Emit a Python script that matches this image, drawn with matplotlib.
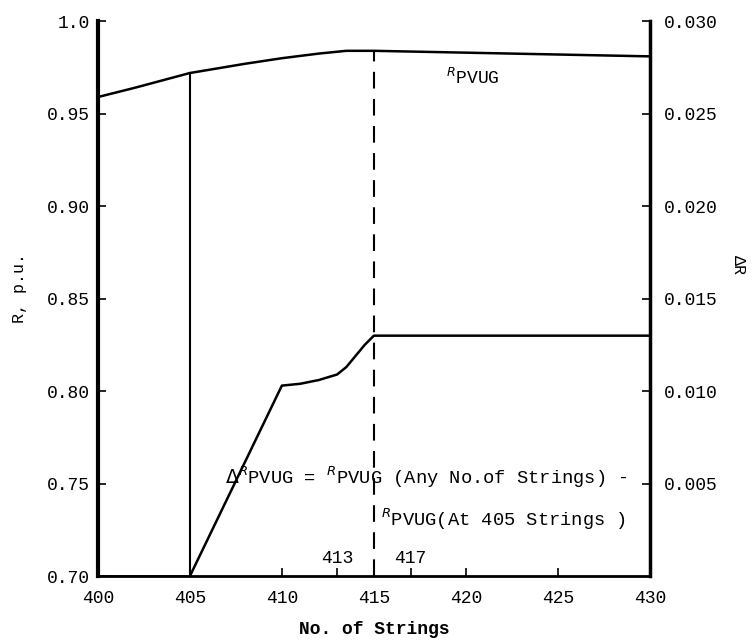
import numpy as np
import matplotlib.pyplot as plt

# --- data ---
x_top = [400, 402, 405, 408, 410, 412, 413.5, 415, 420, 425, 430]
r_pvug = [0.959, 0.964, 0.972, 0.977, 0.980, 0.9825, 0.984, 0.984, 0.983, 0.982, 0.981]

x_dr = [405, 410, 411, 412, 413, 413.5, 414, 414.5, 415, 420, 425, 430]
delta_r = [0.0, 0.0103, 0.0104, 0.0106, 0.0109, 0.0113, 0.0119, 0.0125, 0.0130, 0.0130, 0.0130, 0.0130]

x_ticks = [400, 405, 410, 415, 420, 425, 430]
left_ticks = [0.70, 0.75, 0.80, 0.85, 0.90, 0.95, 1.0]
left_labels = ["0.70", "0.75", "0.80", "0.85", "0.90", "0.95", "1.0"]
right_ticks = [0.005, 0.010, 0.015, 0.020, 0.025, 0.030]
right_labels = ["0.005", "0.010", "0.015", "0.020", "0.025", "0.030"]
mark_x = [413, 417]

# --- plot ---
font = "Liberation Mono"
plt.rcParams['font.family'] = [font, 'DejaVu Sans']

fig = plt.figure(figsize=(7.53, 6.43), dpi=100)
ax = fig.add_axes([0.130, 0.104, 0.733, 0.863])
ax2 = ax.twinx()

ax.set_xlim(400, 430)
ax.set_ylim(0.70, 1.0)
ax2.set_ylim(0.0, 0.030)

ax.plot(x_top, r_pvug, color="black", lw=1.8)
ax2.plot(x_dr, delta_r, color="black", lw=1.8)
ax2.plot([400, 405], [0, 0], color="black", lw=1.8)

# vertical solid line at 405 and dashed at 415
ax.plot([405, 405], [0.70, np.interp(405, x_top, r_pvug)], color="black", lw=1.5)
ax.plot([415, 415], [0.70, np.interp(415, x_top, r_pvug)], color="black", lw=1.5,
        dashes=(8, 5))

for a in (ax, ax2):
    a.spines['top'].set_visible(False)
ax.spines['left'].set_linewidth(3)
ax2.spines['right'].set_linewidth(2.5)
ax.spines['bottom'].set_linewidth(2)
ax2.spines['left'].set_visible(False)
ax2.spines['bottom'].set_visible(False)

ax.set_xticks(x_ticks)
ax.set_xticks(mark_x, minor=True)
ax.set_xticklabels([str(t) for t in x_ticks], fontsize=13)
ax.set_yticks(left_ticks)
ax.set_yticklabels(left_labels, fontsize=13)
ax2.set_yticks(right_ticks)
ax2.set_yticklabels(right_labels, fontsize=13)
ax.tick_params(axis='y', direction='in', length=6, width=1.2, pad=6)
ax.tick_params(axis='x', direction='in', length=6, width=1.2, pad=10)
ax.tick_params(axis='x', which='minor', direction='in', length=6, width=1.2)
ax2.tick_params(axis='y', direction='in', length=6, width=1.2, pad=10)

ax.set_xlabel("No. of Strings", fontsize=13, fontweight="bold", labelpad=10)
ax.set_ylabel("R, p.u.", fontsize=12)
ax.yaxis.set_label_coords(-0.128, 0.52)
ax2.set_ylabel("ΔR", fontsize=12, rotation=270, va="center")
ax2.yaxis.set_label_coords(1.16, 0.56)

# annotations
ax.text(418.9, 0.966, r"$^{R}$PVUG", fontsize=13)
ax.text(406.9, 0.750, r"$\Delta$$^{R}$PVUG = $^{R}$PVUG (Any No.of Strings) -", fontsize=13.5)
ax.text(415.4, 0.727, r"$^{R}$PVUG(At 405 Strings )", fontsize=13.5)
for m in mark_x:
    ax.text(m, 0.707, str(m), fontsize=13, ha="center")

plt.savefig("out.png", dpi=100)
